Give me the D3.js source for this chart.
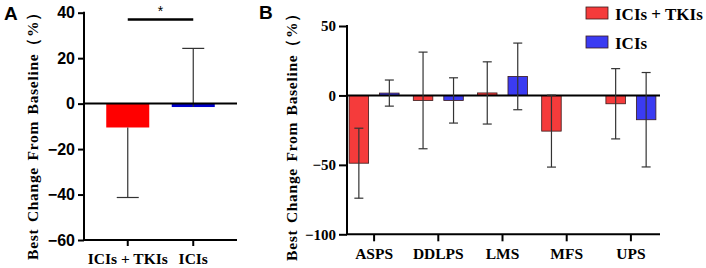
<!DOCTYPE html>
<html>
<head>
<meta charset="utf-8">
<script src="https://cdn.jsdelivr.net/npm/d3@7"></script>
<style>
  html, body { margin: 0; padding: 0; background: #fff; }
  svg { display: block; }
</style>
</head>
<body>
<svg id="chart" width="706" height="268"></svg>
<script>
(function () {

  // ---------------- data ----------------
  const A_GROUPS = ["ICIs + TKIs", "ICIs"];
  const A_MEANS = [-10.5, -1.5];
  const A_ERR_LOW = [-41.3, null];   // one-sided error bars
  const A_ERR_HIGH = [null, 24.3];
  const A_TICKS = [40, 20, 0, -20, -40, -60];

  const B_SUBTYPES = ["ASPS", "DDLPS", "LMS", "MFS", "UPS"];
  const B_SERIES = ["ICIs + TKIs", "ICIs"];
  const B_COMBO_MEANS = [-48.8, -3.6, 1.8, -25.7, -6.0];
  const B_COMBO_SD = [25.2, 34.8, 22.4, 25.9, 25.3];
  const B_ICI_MEANS = [1.7, -3.6, 13.7, null, -17.5];
  const B_ICI_SD = [9.4, 16.3, 24.0, null, 34.0];
  const B_TICKS = [50, 0, -50, -100];

  const SERIF = "'Liberation Serif', 'Times New Roman', serif";
  const SANS = "'Liberation Sans', Arial, sans-serif";
  const YLABEL = "Best Change From Baseline（%）";

  const svg = d3.select("#chart");

  // ---------------- panel A ----------------
  const ay = d3.scaleLinear().domain([-60, 40]).range([240, 12.7]);
  const ax = d3.scaleBand().domain(A_GROUPS).range([95, 226]);
  const aColors = ["#ff0000", "#0000cc"];
  const A_LEFT = 84, A_RIGHT = 237;

  const gA = svg.append("g");

  gA.append("text")
    .attr("x", 4).attr("y", 20)
    .style("font-family", SANS).style("font-weight", 700).style("font-size", "19px")
    .text("A");

  // bars
  gA.selectAll("rect.bar")
    .data(A_GROUPS)
    .enter().append("rect")
    .attr("class", "bar")
    .attr("x", d => ax(d) + ax.bandwidth() / 2 - 21.5)
    .attr("width", 43)
    .attr("y", (d, i) => Math.min(ay(0), ay(A_MEANS[i])))
    .attr("height", (d, i) => Math.abs(ay(A_MEANS[i]) - ay(0)))
    .attr("fill", (d, i) => aColors[i]);

  // error bars (one-sided)
  A_GROUPS.forEach((g, i) => {
    const cx = ax(g) + ax.bandwidth() / 2;
    const end = A_ERR_LOW[i] != null ? A_ERR_LOW[i] : A_ERR_HIGH[i];
    gA.append("line")
      .attr("x1", cx).attr("x2", cx)
      .attr("y1", ay(A_MEANS[i])).attr("y2", ay(end))
      .attr("stroke", "#333").attr("stroke-width", 1.2);
    gA.append("line")
      .attr("x1", cx - 11).attr("x2", cx + 11)
      .attr("y1", ay(end)).attr("y2", ay(end))
      .attr("stroke", "#333").attr("stroke-width", 1.2);
  });

  // zero line
  gA.append("line")
    .attr("x1", A_LEFT).attr("x2", A_RIGHT)
    .attr("y1", ay(0)).attr("y2", ay(0))
    .attr("stroke", "#000").attr("stroke-width", 2);

  // y axis
  const aAxis = gA.append("g")
    .attr("transform", `translate(${A_LEFT},0)`)
    .call(d3.axisLeft(ay).tickValues(A_TICKS).tickSize(6).tickPadding(3));
  aAxis.select(".domain").attr("stroke-width", 2).attr("d", `M0,${ay(40) - 1}V${ay(-60)}`);
  aAxis.selectAll(".tick line").attr("stroke-width", 2);
  aAxis.selectAll(".tick text")
    .style("font-family", SANS).style("font-weight", 700).style("font-size", "16px")
    .attr("fill", "#000");

  // x axis
  const aXAxis = gA.append("g")
    .attr("transform", `translate(0,${ay(-60)})`)
    .call(d3.axisBottom(ax).tickSize(6).tickPadding(7));
  aXAxis.select(".domain").attr("stroke-width", 2).attr("d", `M${A_LEFT - 1},0H${A_RIGHT}`);
  aXAxis.selectAll(".tick line").attr("stroke-width", 2);
  aXAxis.selectAll(".tick text")
    .style("font-family", SERIF).style("font-weight", 700).style("font-size", "15.5px")
    .attr("fill", "#000");

  // significance bracket
  const c1 = ax(A_GROUPS[0]) + ax.bandwidth() / 2;
  const c2 = ax(A_GROUPS[1]) + ax.bandwidth() / 2;
  gA.append("line")
    .attr("x1", c1).attr("x2", c2)
    .attr("y1", 19.5).attr("y2", 19.5)
    .attr("stroke", "#000").attr("stroke-width", 2.5);
  gA.append("text")
    .attr("x", (c1 + c2) / 2).attr("y", 16)
    .attr("text-anchor", "middle")
    .style("font-family", SANS).style("font-size", "14px")
    .text("*");

  gA.append("text")
    .attr("transform", `translate(38,${132}) rotate(-90)`)
    .attr("text-anchor", "middle")
    .style("font-family", SERIF).style("font-weight", 700).style("font-size", "15.5px")
    .style("letter-spacing", "0.7px").style("word-spacing", "2px")
    .text(YLABEL);

  // ---------------- panel B ----------------
  const by = d3.scaleLinear().domain([-100, 50]).range([234.3, 26]);
  const bx = d3.scaleBand().domain(B_SUBTYPES).range([342, 663]);
  const bSub = d3.scaleBand().domain(B_SERIES).range([-25, 25]).paddingInner(0.36).paddingOuter(0);
  const bColors = ["#f53b3b", "#3b3bf2"];
  const B_LEFT = 347, B_RIGHT = 660;

  const gB = svg.append("g");

  gB.append("text")
    .attr("x", 259).attr("y", 19)
    .style("font-family", SANS).style("font-weight", 700).style("font-size", "19px")
    .text("B");

  const rows = [];
  B_SUBTYPES.forEach((s, i) => {
    rows.push({ sub: s, series: B_SERIES[0], mean: B_COMBO_MEANS[i], sd: B_COMBO_SD[i], k: 0 });
    if (B_ICI_MEANS[i] != null)
      rows.push({ sub: s, series: B_SERIES[1], mean: B_ICI_MEANS[i], sd: B_ICI_SD[i], k: 1 });
  });

  const bxPos = d => bx(d.sub) + bx.bandwidth() / 2 + bSub(d.series);

  gB.selectAll("rect.bar")
    .data(rows)
    .enter().append("rect")
    .attr("class", "bar")
    .attr("x", bxPos)
    .attr("width", bSub.bandwidth())
    .attr("y", d => Math.min(by(0), by(d.mean)))
    .attr("height", d => Math.abs(by(d.mean) - by(0)))
    .attr("fill", d => bColors[d.k])
    .attr("stroke", "#3a1a1a").attr("stroke-width", 0.8);

  // zero line
  gB.append("line")
    .attr("x1", B_LEFT).attr("x2", B_RIGHT)
    .attr("y1", by(0)).attr("y2", by(0))
    .attr("stroke", "#000").attr("stroke-width", 2);

  // error bars
  const eb = gB.selectAll("g.err").data(rows).enter().append("g").attr("class", "err");
  eb.append("line")
    .attr("x1", d => bxPos(d) + bSub.bandwidth() / 2)
    .attr("x2", d => bxPos(d) + bSub.bandwidth() / 2)
    .attr("y1", d => by(d.mean + d.sd)).attr("y2", d => by(d.mean - d.sd))
    .attr("stroke", "#333").attr("stroke-width", 1.2);
  [1, -1].forEach(sgn => {
    eb.append("line")
      .attr("x1", d => bxPos(d) + bSub.bandwidth() / 2 - 4.5)
      .attr("x2", d => bxPos(d) + bSub.bandwidth() / 2 + 4.5)
      .attr("y1", d => by(d.mean + sgn * d.sd)).attr("y2", d => by(d.mean + sgn * d.sd))
      .attr("stroke", "#333").attr("stroke-width", 1.2);
  });

  // y axis
  const bAxis = gB.append("g")
    .attr("transform", `translate(${B_LEFT},0)`)
    .call(d3.axisLeft(by).tickValues(B_TICKS).tickSize(8).tickPadding(3));
  bAxis.select(".domain").attr("stroke-width", 2).attr("d", `M0,${by(50) - 1}V${by(-100)}`);
  bAxis.selectAll(".tick line").attr("stroke-width", 2);
  bAxis.selectAll(".tick text")
    .style("font-family", SERIF).style("font-weight", 700).style("font-size", "15px")
    .attr("fill", "#000");

  // x axis
  const bXAxis = gB.append("g")
    .attr("transform", `translate(0,${by(-100)})`)
    .call(d3.axisBottom(bx).tickSize(7).tickPadding(7));
  bXAxis.select(".domain").attr("stroke-width", 2).attr("d", `M${B_LEFT - 1},0H${B_RIGHT}`);
  bXAxis.selectAll(".tick line").attr("stroke-width", 2);
  bXAxis.selectAll(".tick text")
    .style("font-family", SERIF).style("font-weight", 700).style("font-size", "15.5px")
    .attr("fill", "#000");

  gB.append("text")
    .attr("transform", `translate(297,${133}) rotate(-90)`)
    .attr("text-anchor", "middle")
    .style("font-family", SERIF).style("font-weight", 700).style("font-size", "15.5px")
    .style("letter-spacing", "0.7px").style("word-spacing", "2px")
    .text(YLABEL);

  // legend
  const legend = gB.append("g").attr("transform", "translate(586,7)");
  B_SERIES.forEach((s, i) => {
    const row = legend.append("g").attr("transform", `translate(0,${i * 29})`);
    row.append("rect")
      .attr("width", 22).attr("height", 12)
      .attr("fill", bColors[i])
      .attr("stroke", "#3a1a1a").attr("stroke-width", 0.8);
    row.append("text")
      .attr("x", 29).attr("y", 12.5)
      .style("font-family", SERIF).style("font-weight", 700).style("font-size", "17px")
      .text(s);
  });

})();
</script>
</body>
</html>
